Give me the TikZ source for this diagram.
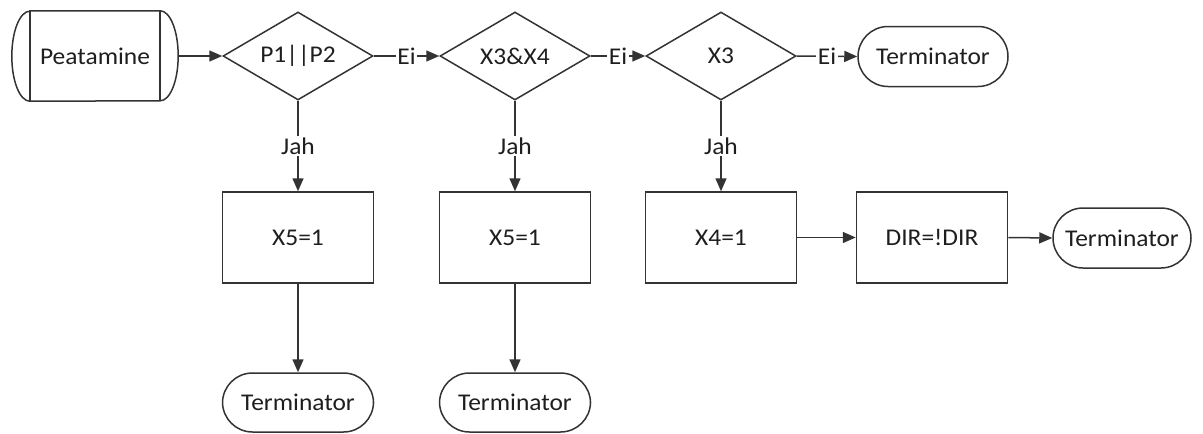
\documentclass[tikz,border=0pt]{standalone}
\usepackage{fontspec}
\setmainfont{Carlito}[FakeStretch=1.06]
\usetikzlibrary{shapes.geometric,arrows.meta,calc}
\definecolor{linec}{HTML}{333333}
\definecolor{textc}{HTML}{1E1E1E}
\begin{document}
\begin{tikzpicture}[x=1pt,y=1pt,
  font=\fontsize{24}{28}\selectfont,
  every node/.style={text=textc},
  line/.style={draw=linec,line width=1.5pt},
  arr/.style={line,-{Triangle[length=13pt,width=11pt]}},
  dec/.style={line,diamond,aspect=1.7,minimum width=150pt,minimum height=88pt,inner sep=0pt},
  procbox/.style={line,rectangle,minimum width=151pt,minimum height=91pt,inner sep=0pt},
  term/.style={line,rectangle,rounded corners=30pt,minimum height=60pt,minimum width=150pt,inner sep=0pt},
  lbl/.style={fill=white,inner sep=1.5pt}]
\useasboundingbox (0,0) rectangle (1203,-434);
% start node
\node[minimum width=166pt,minimum height=90pt,inner sep=0pt] (pea) at (95,-56) {Peatamine};
\draw[line] ($(pea.north west)+(18,0)$) -- ($(pea.north east)+(-18,0)$)
  arc[start angle=90,end angle=-90,x radius=18pt,y radius=45pt]
  -- ($(pea.south west)+(18,0)$)
  arc[start angle=270,end angle=90,x radius=18pt,y radius=45pt] -- cycle;
\draw[line] ($(pea.north west)+(18,0)$) -- ($(pea.south west)+(18,0)$);
\draw[line] ($(pea.north east)+(-18,0)$) -- ($(pea.south east)+(-18,0)$);
% decisions
\node[dec] (d1) at (298,-56) {P1||P2};
\node[dec] (d2) at (515,-56) {X3\&X4};
\node[dec] (d3) at (721,-56) {X3};
\node[term] (t1) at (933,-56.5) {Terminator};
% processes
\node[procbox] (r1) at (298,-237.5) {X5=1};
\node[procbox] (r2) at (515,-237.5) {X5=1};
\node[procbox] (r3) at (721,-237.5) {X4=1};
\node[procbox] (r4) at (932,-237.5) {DIR=!DIR};
\node[term,minimum width=138pt] (t2) at (1122,-238) {Terminator};
\node[term,minimum width=151pt,minimum height=59pt] (b1) at (298,-402.5) {Terminator};
\node[term,minimum width=151pt,minimum height=59pt] (b2) at (515,-402.5) {Terminator};
% connectors
\draw[arr] (pea.east) -- (d1.west);
\draw[arr] (d1.east) -- node[lbl] {Ei} (d2.west);
\draw[arr] (d2.east) -- node[lbl] {Ei} (d3.west);
\draw[arr] (d3.east) -- node[lbl] {Ei} (t1.west);
\draw[arr] (d1.south) -- node[lbl] {Jah} (r1.north);
\draw[arr] (d2.south) -- node[lbl] {Jah} (r2.north);
\draw[arr] (d3.south) -- node[lbl] {Jah} (r3.north);
\draw[arr] (r1.south) -- (b1.north);
\draw[arr] (r2.south) -- (b2.north);
\draw[arr] (r3.east) -- (r4.west);
\draw[arr] (r4.east) -- (t2.west);
\end{tikzpicture}
\end{document}
